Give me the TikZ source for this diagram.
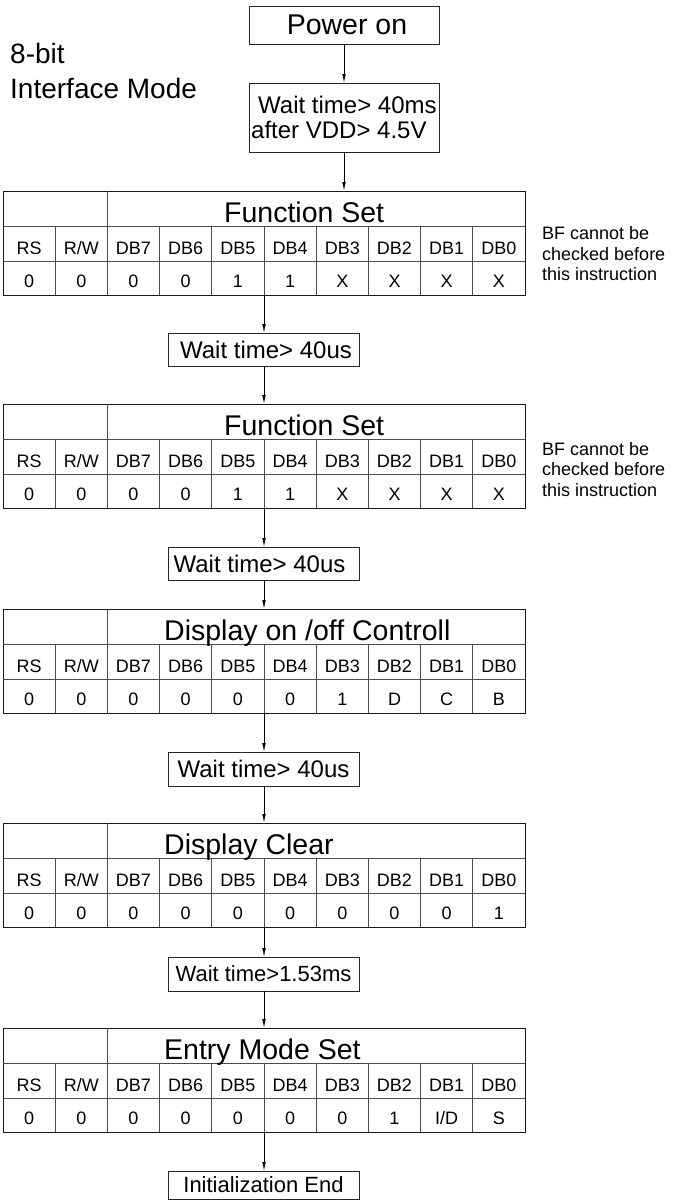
\documentclass[tikz,border=0pt]{standalone}
\usepackage{fontspec}
\setmainfont{Liberation Sans}
\usetikzlibrary{arrows.meta}
\newcommand{\pxsize}[1]{\fontsize{#1}{#1}\selectfont}
\tikzset{
  boxnode/.style={draw=black!85,line width=0.9pt,inner sep=0pt,outer sep=0pt},
  tframe/.style={draw=black!90,line width=1pt,minimum width=522pt,minimum height=104pt,inner sep=0pt,outer sep=0pt},
  inner/.style={draw=black!70,line width=0.75pt},
  cell/.style={anchor=base,inner sep=0pt,font=\pxsize{18}},
  ttl/.style={anchor=base west,inner sep=0pt,font=\pxsize{28.5}},
  bfnote/.style={anchor=base west,inner sep=0pt,align=left,font=\fontsize{18}{20.3}\selectfont},
  flow/.style={draw=black,line width=0.8pt,-{Latex[length=9pt,width=3.6pt]}},
}
\newcommand{\lcdtable}[5]{%
  \node[tframe] (#1) at (264,{#2+52}) {};
  \draw[inner] (3,{#2+35}) -- (525,{#2+35});
  \draw[inner] (3,{#2+70}) -- (525,{#2+70});
  \draw[inner] (107.4,{#2}) -- (107.4,{#2+104});
  \foreach \k in {1,3,4,5,6,7,8,9}
    \draw[inner] ({3+52.2*\k},{#2+35}) -- ({3+52.2*\k},{#2+104});
  \node[ttl] (#1-title) at (#4,{#2+31}) {#3};
  \foreach \h [count=\i from 0] in {RS,R/W,DB7,DB6,DB5,DB4,DB3,DB2,DB1,DB0}
    \node[cell] (#1-h\i) at ({3+52.2*(\i+0.5)},{#2+63}) {\h};
  \foreach \v [count=\i from 0] in {#5}
    \node[cell] (#1-v\i) at ({3+52.2*(\i+0.5)},{#2+96}) {\v};
}
\begin{document}
\begin{tikzpicture}[x=1pt,y=-1pt]
\useasboundingbox (0,0) rectangle (676,1200);
% left title
\node[anchor=base west,inner sep=0pt,font=\pxsize{28}] (mode1) at (10,63) {8-bit};
\node[anchor=base west,inner sep=0pt,font=\pxsize{28}] (mode2) at (10,98) {Interface Mode};
% power on
\node[boxnode,minimum width=190pt,minimum height=38pt,font=\pxsize{28.5}] (power) at (344,25) {\hspace*{6pt}Power on};
% wait 40ms
\node[boxnode,minimum width=190pt,minimum height=69pt] (wms) at (344,117.5) {};
\node[anchor=base west,inner sep=0pt,font=\pxsize{24}] (wms1) at (258,113) {Wait time> 40ms};
\node[anchor=base west,inner sep=0pt,font=\pxsize{24}] (wms2) at (251,138) {after VDD> 4.5V};
% tables
\lcdtable{t1}{191}{Function Set}{224}{0,0,0,0,1,1,X,X,X,X}
\lcdtable{t2}{404}{Function Set}{224}{0,0,0,0,1,1,X,X,X,X}
\lcdtable{t3}{609}{Display on /off Controll}{164}{0,0,0,0,0,0,1,D,C,B}
\lcdtable{t4}{823}{Display Clear}{164}{0,0,0,0,0,0,0,0,0,1}
\lcdtable{t5}{1028}{Entry Mode Set}{164}{0,0,0,0,0,0,0,1,I/D,S}
% notes (base = last line)
\node[bfnote] (bf1) at (542,280.5) {BF cannot be\\checked before\\this instruction};
\node[bfnote] (bf2) at (542,496) {BF cannot be\\checked before\\this instruction};
% wait boxes
\node[boxnode,minimum width=191pt,minimum height=33pt,font=\pxsize{24}] (w1) at (263.5,349.5) {\hspace*{5pt}Wait time> 40us};
\node[boxnode,minimum width=191pt,minimum height=33pt,font=\pxsize{24}] (w2) at (263.5,563.5) {Wait time> 40us\hspace*{8pt}};
\node[boxnode,minimum width=191pt,minimum height=34pt,font=\pxsize{24}] (w3) at (263.5,769) {Wait time> 40us};
\node[boxnode,minimum width=191pt,minimum height=34pt,font=\pxsize{22}] (w4) at (263.5,974) {Wait time>1.53ms};
\node[boxnode,minimum width=191pt,minimum height=28pt,font=\pxsize{22}] (wend) at (263.5,1185) {Initialization End};
% connectors
\draw[flow] (power.south) -- (wms.north);
\draw[flow] (wms.south) -- (wms.south |- t1.north);
\draw[flow] (t1.south) -- (t1.south |- w1.north);
\draw[flow] (w1.south -| t2.north) -- (t2.north);
\draw[flow] (t2.south) -- (t2.south |- w2.north);
\draw[flow] (w2.south -| t3.north) -- (t3.north);
\draw[flow] (t3.south) -- (t3.south |- w3.north);
\draw[flow] (w3.south -| t4.north) -- (t4.north);
\draw[flow] (t4.south) -- (t4.south |- w4.north);
\draw[flow] (w4.south -| t5.north) -- (t5.north);
\draw[flow] (t5.south) -- (t5.south |- wend.north);
\end{tikzpicture}
\end{document}
